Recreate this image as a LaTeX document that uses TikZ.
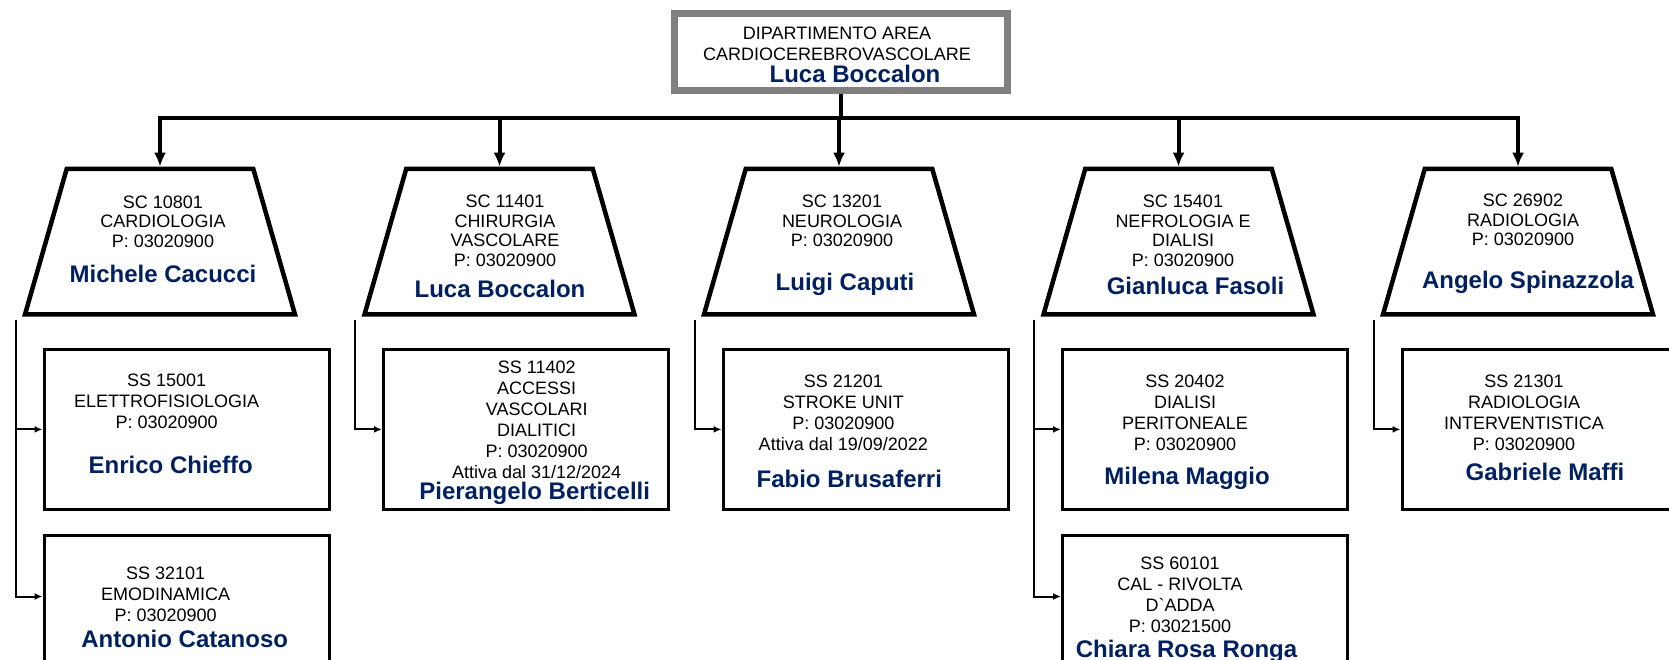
\documentclass[tikz,border=0pt]{standalone}
\usepackage{fontspec}
\setmainfont{Liberation Sans}
\usetikzlibrary{arrows.meta, shapes.geometric}
\definecolor{navy}{RGB}{0,32,96}
\newcommand{\resp}[2][0pt]{\hspace*{#1}{\fontsize{24pt}{24pt}\selectfont\bfseries\color{navy}#2}}

\begin{document}
\begin{tikzpicture}[x=1pt, y=-1pt,
		feed/.style={line width=4pt},
		link/.style={line width=2pt, -{Latex[length=8pt, width=7pt]}},
		dept/.style={draw=gray, line width=7pt, minimum width=333pt, minimum height=77pt, inner sep=0pt},
		sc/.style={trapezium, trapezium angle=77.4, trapezium stretches=true, draw, line width=4.5pt, minimum width=270pt, minimum height=145.5pt, inner sep=5pt},
		ss/.style={draw, line width=3pt, minimum width=285pt, minimum height=159.2pt, inner sep=0pt},
		sctxt/.style={anchor=north, align=center, inner sep=0pt, font=\fontsize{18pt}{19.8pt}\selectfont},
		sstxt/.style={sctxt, font=\fontsize{18pt}{21pt}\selectfont}]
	\useasboundingbox (0,0) rectangle (1669,660);
	\clip (0,0) rectangle (1669,660);

	\node[dept] (dip) at (841,52) {};
	\node[sstxt] (dipt) at (837,26.9) {DIPARTIMENTO AREA\\CARDIOCEREBROVASCOLARE\\[1pt]\resp[36pt]{Luca Boccalon}};

	\foreach \i/\x in {1/160, 2/499.5, 3/839, 4/1178.5, 5/1518}
		\node[sc] (sc\i) at (\x,241.7) {};

	\node[sctxt] (t1) at (163,195.3) {SC 10801\\CARDIOLOGIA\\P: 03020900\\[14.7pt]\resp{Michele Cacucci}};
	\node[sctxt] (t2) at (505,194.6) {SC 11401\\CHIRURGIA\\VASCOLARE\\P: 03020900\\[11.4pt]\resp[-10pt]{Luca Boccalon}};
	\node[sctxt] (t3) at (842,194.6) {SC 13201\\NEUROLOGIA\\P: 03020900\\[23.4pt]\resp[6pt]{Luigi Caputi}};
	\node[sctxt] (t4) at (1183,194.6) {SC 15401\\NEFROLOGIA E\\DIALISI\\P: 03020900\\[8.4pt]\resp[25pt]{Gianluca Fasoli}};
	\node[sctxt] (t5) at (1523,193.6) {SC 26902\\RADIOLOGIA\\P: 03020900\\[22.7pt]\resp[10pt]{Angelo Spinazzola}};

	\node[ss] (ss1) at (186.5,429.4) {};
	\node[ss] (ss2) at (186.5,614.6) {};
	\node[ss] (ss3) at (526,429.4) {};
	\node[ss] (ss4) at (865.5,429.4) {};
	\node[ss] (ss5) at (1205,429.4) {};
	\node[ss] (ss6) at (1205,614.6) {};
	\node[ss] (ss7) at (1544.5,429.4) {};

	\node[sstxt] (u1) at (166.7,373.5) {SS 15001\\ELETTROFISIOLOGIA\\P: 03020900\\[23.9pt]\resp[8pt]{Enrico Chieffo}};
	\node[sstxt] (u2) at (165.7,566.9) {SS 32101\\EMODINAMICA\\P: 03020900\\[4.5pt]\resp[38pt]{Antonio Catanoso}};
	\node[sstxt] (u3) at (536.7,361.2) {SS 11402\\ACCESSI\\VASCOLARI\\DIALITICI\\P: 03020900\\Attiva dal 31/12/2024\\\resp[-4pt]{Pierangelo Berticelli}};
	\node[sstxt] (u4) at (843.3,374.3) {SS 21201\\STROKE UNIT\\P: 03020900\\Attiva dal 19/09/2022\\[16.2pt]\resp[12pt]{Fabio Brusaferri}};
	\node[sstxt] (u5) at (1185,374.3) {SS 20402\\DIALISI\\PERITONEALE\\P: 03020900\\[13.9pt]\resp[4pt]{Milena Maggio}};
	\node[sstxt] (u6) at (1180,556.3) {SS 60101\\CAL - RIVOLTA\\D\textasciigrave ADDA\\P: 03021500\\[4.6pt]\resp[13pt]{Chiara Rosa Ronga}};
	\node[sstxt] (u7) at (1524,374.5) {SS 21301\\RADIOLOGIA\\INTERVENTISTICA\\P: 03020900\\[9.6pt]\resp[42pt]{Gabriele Maffi}};

	\coordinate (bus) at (840,118.3);
	\draw[feed] (dip.south) -- (dip.south |- bus);
	\draw[feed, line cap=rect] (bus -| sc1.north) -- (bus -| sc5.north);
	\foreach \i in {1,...,5}
		\draw[feed, -{Latex[length=14pt, width=12pt]}] (bus -| sc\i.north) -- (sc\i.north);

	\draw[link] ([xshift=-144.5pt, yshift=-3pt]sc1.south) |- (ss1.west);
	\draw[link] ([xshift=-144.5pt, yshift=-3pt]sc1.south) |- ([yshift=-63pt]ss2.north west);
	\draw[link] ([xshift=-144.5pt, yshift=-3pt]sc2.south) |- (ss3.west);
	\draw[link] ([xshift=-144.5pt, yshift=-3pt]sc3.south) |- (ss4.west);
	\draw[link] ([xshift=-144.5pt, yshift=-3pt]sc4.south) |- (ss5.west);
	\draw[link] ([xshift=-144.5pt, yshift=-3pt]sc4.south) |- ([yshift=-63pt]ss6.north west);
	\draw[link] ([xshift=-144.5pt, yshift=-3pt]sc5.south) |- (ss7.west);
\end{tikzpicture}
\end{document}
